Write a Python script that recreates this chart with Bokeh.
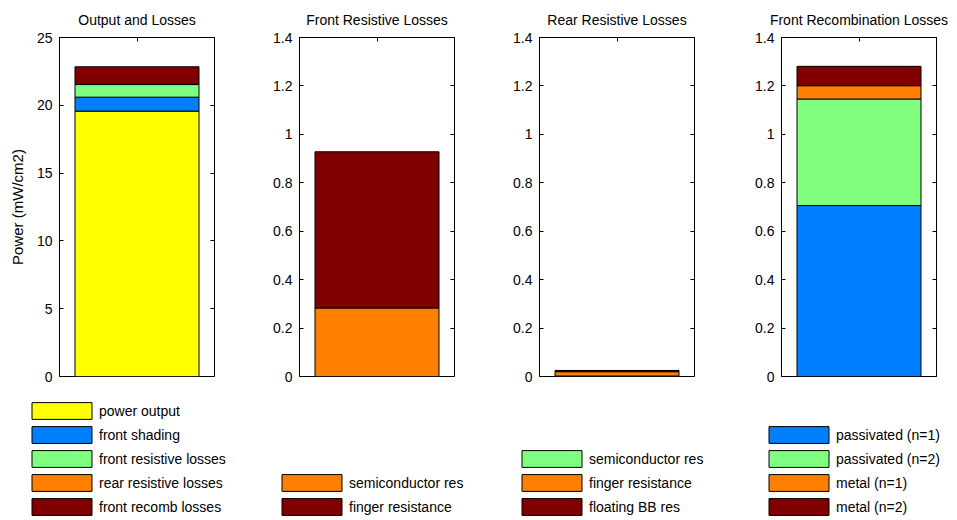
from bokeh.plotting import figure
from bokeh.models import Legend, LegendItem, LinearAxis, FixedTicker, Range1d
from bokeh.layouts import row
from bokeh.embed import file_html
from bokeh.resources import INLINE
import numpy as np

# ---- data ----
titles = ["Output and Losses", "Front Resistive Losses", "Rear Resistive Losses", "Front Recombination Losses"]

out_labels = ["power output", "front shading", "front resistive losses", "rear resistive losses", "front recomb losses"]
out_values = [19.57, 1.03, 0.93, 0.02, 1.29]

fres_labels = ["semiconductor res", "finger resistance"]
fres_values = [0.283, 0.645]

rres_labels = ["semiconductor res", "finger resistance", "floating BB res"]
rres_values = [0.002, 0.018, 0.005]

frec_labels = ["passivated (n=1)", "passivated (n=2)", "metal (n=1)", "metal (n=2)"]
frec_values = [0.706, 0.440, 0.055, 0.080]

y_ticks_big = [0, 5, 10, 15, 20, 25]
y_tick_labels_big = ["0", "5", "10", "15", "20", "25"]
y_ticks_small = [0, 0.2, 0.4, 0.6, 0.8, 1.0, 1.2, 1.4]
y_tick_labels_small = ["0", "0.2", "0.4", "0.6", "0.8", "1", "1.2", "1.4"]

YELLOW, BLUE, GREEN, ORANGE, DARKRED = "#FFFF00", "#0080FF", "#80FF80", "#FF8000", "#800000"
out_colors = [YELLOW, BLUE, GREEN, ORANGE, DARKRED]
fres_colors = [ORANGE, DARKRED]
rres_colors = [GREEN, ORANGE, DARKRED]
frec_colors = [BLUE, GREEN, ORANGE, DARKRED]

FONT = "Liberation Sans"
TOP, FRAME_H, BOTTOM = 37, 339, 10
TOTAL_H = 517
BORDERS = [(59, 33), (52, 33), (52, 33), (54, 12)]


def make_panel(title, values, colors, ymax, ticks, tick_labels, left, right, ylabel=None):
    p = figure(frame_width=155, frame_height=FRAME_H,
               min_border_left=left, min_border_right=right,
               min_border_top=TOP, min_border_bottom=BOTTOM,
               x_range=Range1d(0.5, 1.5), y_range=Range1d(0, ymax),
               output_backend="svg", toolbar_location=None,
               x_axis_location=None, y_axis_location=None)
    p.title.text = title
    p.title.align = "center"
    p.title.text_font = FONT
    p.title.text_font_size = "14px"
    p.title.text_font_style = "normal"
    p.title.text_color = "black"
    p.title.standoff = 19
    p.grid.visible = False
    p.outline_line_color = "black"

    overrides = {t: s for t, s in zip(ticks, tick_labels)}
    blank = {t: "" for t in ticks}
    yl = LinearAxis(ticker=FixedTicker(ticks=ticks), major_label_overrides=overrides)
    yr = LinearAxis(ticker=FixedTicker(ticks=ticks), major_label_overrides=blank)
    xt = LinearAxis(ticker=FixedTicker(ticks=[1]), major_label_overrides={1: ""})
    for ax in (yl, yr, xt):
        ax.major_tick_in = 4
        ax.major_tick_out = 0
        ax.minor_tick_in = 0
        ax.minor_tick_out = 0
        ax.axis_line_color = "black"
        ax.major_tick_line_color = "black"
        ax.major_label_text_font = FONT
        ax.major_label_text_color = "black"
        ax.major_label_text_font_size = "14px"
    yl.major_label_standoff = 7
    yr.major_label_standoff = 0
    xt.major_label_standoff = 0
    if ylabel:
        yl.axis_label = ylabel
        yl.axis_label_text_font = FONT
        yl.axis_label_text_font_size = "15px"
        yl.axis_label_text_font_style = "normal"
        yl.axis_label_text_color = "black"
        yl.axis_label_standoff = 8
    p.add_layout(yl, "left")
    p.add_layout(yr, "right")
    p.add_layout(xt, "above")

    vals = np.array(values, dtype=float)
    tops = np.cumsum(vals)
    bottoms = tops - vals
    for b, t, c in zip(bottoms, tops, colors):
        p.vbar(x=[1], width=0.8, bottom=[b], top=[t], fill_color=c,
               line_color="black", line_width=1)
    return p


p1 = make_panel(titles[0], out_values, out_colors, 25, y_ticks_big, y_tick_labels_big,
                *BORDERS[0], ylabel="Power (mW/cm2)")
p2 = make_panel(titles[1], fres_values, fres_colors, 1.4, y_ticks_small, y_tick_labels_small, *BORDERS[1])
p3 = make_panel(titles[2], rres_values, rres_colors, 1.4, y_ticks_small, y_tick_labels_small, *BORDERS[2])
p4 = make_panel(titles[3], frec_values, frec_colors, 1.4, y_ticks_small, y_tick_labels_small, *BORDERS[3])

plots = row(p1, p2, p3, p4, spacing=0)

# ---- legend strip below the panels (one frame covering the whole strip) ----
total_w = sum(l + 155 + r for l, r in BORDERS)
lf = figure(width=total_w, height=TOTAL_H - (TOP + FRAME_H + BOTTOM),
            output_backend="svg", toolbar_location=None,
            x_range=Range1d(0, 1), y_range=Range1d(0, 1), min_border=0,
            x_axis_location=None, y_axis_location=None)
lf.grid.visible = False
lf.outline_line_color = None

legend_sets = [(out_labels, out_values, out_colors, 24),
               (fres_labels, fres_values, fres_colors, 274),
               (rres_labels, rres_values, rres_colors, 514),
               (frec_labels, frec_values, frec_colors, 761)]
for labels, values, colors, lx in legend_sets:
    items = []
    for lab, v, c in zip(labels, values, colors):
        r = lf.vbar(x=[1], width=0.8, top=[v], fill_color=c,
                    line_color="black", line_width=1, visible=False)
        items.append(LegendItem(label=lab, renderers=[r]))
    leg = Legend(items=items, location=(lx, 0),
                 glyph_width=75, glyph_height=21, label_height=21,
                 label_standoff=0, spacing=3, padding=0, margin=0,
                 border_line_alpha=0, background_fill_alpha=0,
                 inactive_fill_alpha=0,
                 label_text_font=FONT, label_text_font_size="14px",
                 label_text_color="black")
    lf.add_layout(leg, "center")

open("out.html", "w").write(file_html([plots, lf], INLINE))
